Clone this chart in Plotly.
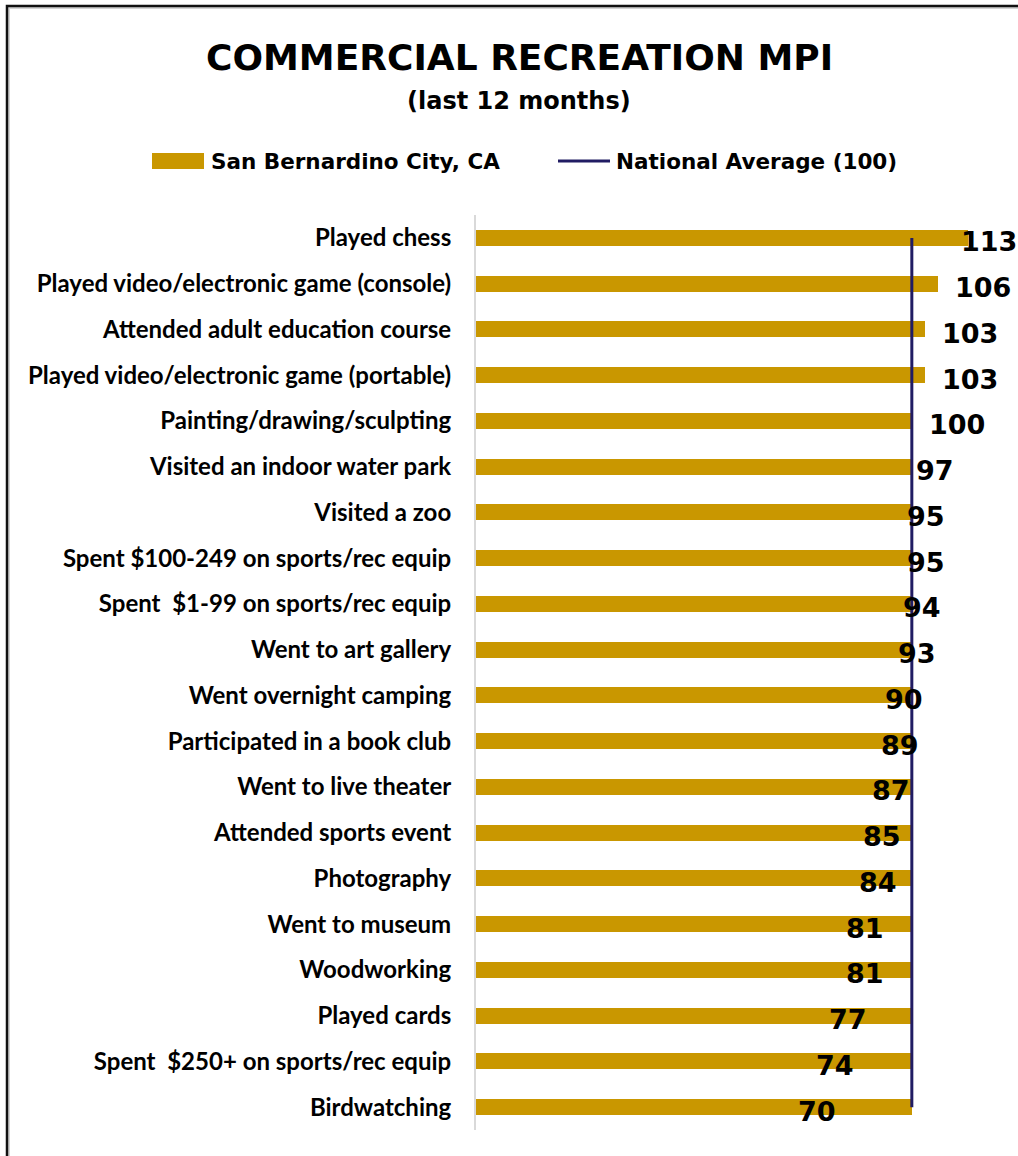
import plotly.graph_objects as go

# ---- data -------------------------------------------------------------
categories = [
    "Played chess",
    "Played video/electronic game (console)",
    "Attended adult education course",
    "Played video/electronic game (portable)",
    "Painting/drawing/sculpting",
    "Visited an indoor water park",
    "Visited a zoo",
    "Spent $100-249 on sports/rec equip",
    "Spent\u00a0 $1-99 on sports/rec equip",
    "Went to art gallery",
    "Went overnight camping",
    "Participated in a book club",
    "Went to live theater",
    "Attended sports event",
    "Photography",
    "Went to museum",
    "Woodworking",
    "Played cards",
    "Spent\u00a0 $250+ on sports/rec equip",
    "Birdwatching",
]
mpi_values = [113, 106, 103, 103, 100, 97, 95, 95, 94, 93,
              90, 89, 87, 85, 84, 81, 81, 77, 74, 70]
national_average = [100, 100, 100, 100, 100, 100, 100, 100, 100, 100,
                    100, 100, 100, 100, 100, 100, 100, 100, 100, 100]
national_level = 100

series_name = "San Bernardino City, CA"
average_name = "National Average (100)"

# ---- style ------------------------------------------------------------
GOLD = "#C99700"
NAVY = "#211C63"
W, H = 1018, 1156
ML, MR, MT, MB = 476, 19, 215, 26
PW, PH = W - ML - MR, H - MT - MB
X_MAX = 120

HEAD_FONT = "DejaVu Sans"
LABEL_FONT = "Lato"
VALUE_SIZE = 27
VALUE_SHIFT = 15


def px_x(p):
    return (p - ML) / PW


def px_y(p):
    return (H - MB - p) / PH


fig = go.Figure()

# background bars at the national level
fig.add_trace(go.Bar(
    x=national_average, y=categories, orientation="h",
    marker=dict(color=GOLD, line=dict(width=0)),
    width=0.35, showlegend=False, hoverinfo="skip",
))

# city MPI bars
fig.add_trace(go.Bar(
    x=mpi_values, y=categories, orientation="h", name=series_name,
    marker=dict(color=GOLD, line=dict(width=0)),
    width=0.35, showlegend=False,
))

# national average reference line
fig.add_trace(go.Scatter(
    x=[national_level, national_level], y=[categories[0], categories[-1]],
    mode="lines", line=dict(color=NAVY, width=3), name=average_name,
    showlegend=False, hoverinfo="skip", cliponaxis=False,
))

annotations = []
value_font = dict(family=HEAD_FONT, size=VALUE_SIZE, color="#000000", weight=600)
for cat, val in zip(categories, mpi_values):
    text = str(val)
    # keep labels inside the page: pull a label back if it would run off
    left_px = ML + val / X_MAX * PW + VALUE_SHIFT
    est_width = 0.7 * VALUE_SIZE * len(text)
    shift = VALUE_SHIFT
    if left_px + est_width > W - 2:
        shift -= (left_px + est_width) - (W - 2)
    annotations.append(dict(
        x=val, y=cat, xref="x", yref="y", text=text, showarrow=False,
        xanchor="left", yanchor="middle", xshift=shift, yshift=-4,
        font=value_font,
    ))

# title and subtitle
annotations.append(dict(
    x=px_x(519), y=px_y(57), xref="paper", yref="paper",
    text="COMMERCIAL RECREATION MPI", showarrow=False,
    xanchor="center", yanchor="middle",
    font=dict(family=HEAD_FONT, size=36, color="#000000", weight=600),
))
annotations.append(dict(
    x=px_x(519), y=px_y(101), xref="paper", yref="paper",
    text="(last 12 months)", showarrow=False,
    xanchor="center", yanchor="middle",
    font=dict(family=HEAD_FONT, size=24, color="#000000", weight=600),
))

# legend entries
legend_font = dict(family=HEAD_FONT, size=21.5, color="#000000", weight=600)
annotations.append(dict(
    x=px_x(209), y=px_y(161), xref="paper", yref="paper",
    text=series_name, showarrow=False, xanchor="left", yanchor="middle",
    font=legend_font,
))
annotations.append(dict(
    x=px_x(614), y=px_y(161), xref="paper", yref="paper",
    text=average_name, showarrow=False, xanchor="left", yanchor="middle",
    font=legend_font,
))

shapes = [
    # legend swatch
    dict(type="rect", xref="paper", yref="paper",
         x0=px_x(152), x1=px_x(204), y0=px_y(169), y1=px_y(153),
         fillcolor=GOLD, line=dict(width=0), layer="above"),
    # legend line
    dict(type="line", xref="paper", yref="paper",
         x0=px_x(558), x1=px_x(610), y0=px_y(161), y1=px_y(161),
         line=dict(color=NAVY, width=3), layer="above"),
    # soft inner edge of the frame
    dict(type="rect", xref="paper", yref="paper",
         x0=px_x(9), x1=px_x(1042), y0=px_y(1182), y1=px_y(8),
         line=dict(color="#d4d4d4", width=2), fillcolor="rgba(0,0,0,0)",
         layer="above"),
    # outer frame
    dict(type="rect", xref="paper", yref="paper",
         x0=px_x(7), x1=px_x(1040), y0=px_y(1180), y1=px_y(6),
         line=dict(color="#111111", width=2.5), fillcolor="rgba(0,0,0,0)",
         layer="above"),
]

fig.update_layout(
    width=W, height=H,
    margin=dict(l=ML, r=MR, t=MT, b=MB, pad=0),
    paper_bgcolor="white", plot_bgcolor="white",
    barmode="overlay", bargap=0,
    showlegend=False,
    annotations=annotations, shapes=shapes,
    xaxis=dict(range=[0, X_MAX], showgrid=False, zeroline=False,
               showticklabels=False, ticks="", showline=False,
               fixedrange=True),
    yaxis=dict(range=[len(categories) - 0.5, -0.5], showgrid=False,
               zeroline=False, showline=True, linecolor="#d9d9d9",
               linewidth=2, ticks="", ticklabelstandoff=18,
               tickfont=dict(family=LABEL_FONT, size=24, color="#000000",
                             weight=700),
               fixedrange=True),
)

fig.write_html("out.html")
